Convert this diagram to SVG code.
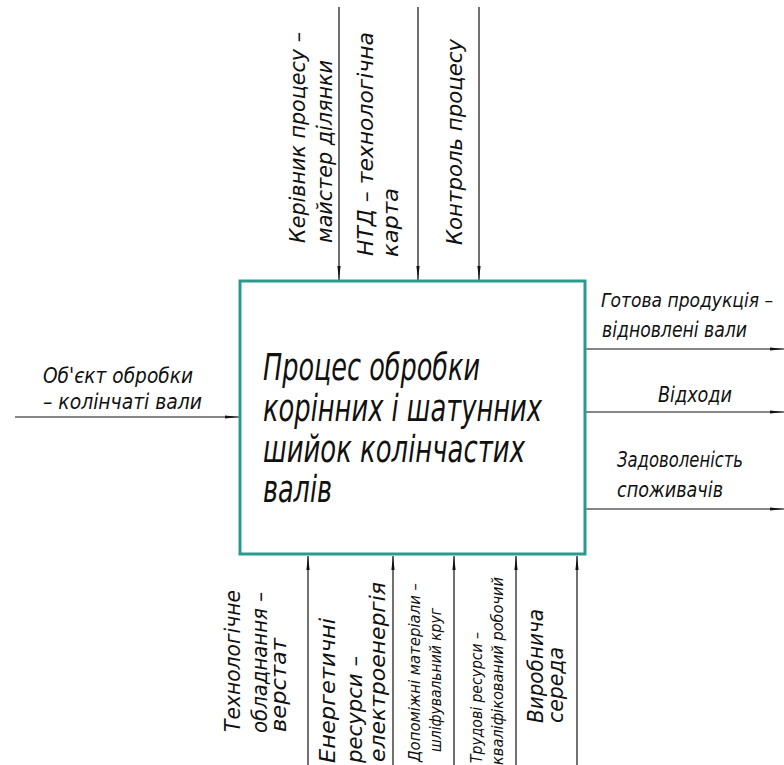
<svg xmlns="http://www.w3.org/2000/svg" width="784" height="765" viewBox="0 0 784 765">
<style>
text{font-family:"DejaVu Sans Condensed","DejaVu Sans",sans-serif;font-style:italic;fill:#111;}
.lbl{font-size:21px;}
.top{font-size:22px;}
.sm{font-size:15px;}
.main{font-size:37px;}
.ln{stroke:#111;stroke-width:1.2;fill:none;}
</style>
<defs>
<marker id="ah" viewBox="0 0 14 4" markerWidth="14" markerHeight="4" refX="14" refY="2" orient="auto" markerUnits="userSpaceOnUse">
<path d="M0,0.4 L14,2 L0,3.6 z" fill="#111"/>
</marker>
</defs>
<rect width="784" height="765" fill="#fff"/>
<g id="connectors">
<line class="ln" x1="339" y1="7" x2="339" y2="280" marker-end="url(#ah)"/>
<line class="ln" x1="418" y1="7" x2="418" y2="280" marker-end="url(#ah)"/>
<line class="ln" x1="479" y1="7" x2="479" y2="280" marker-end="url(#ah)"/>
<line class="ln" x1="15" y1="417" x2="239" y2="417" marker-end="url(#ah)"/>
<line class="ln" x1="586" y1="349" x2="784" y2="349" marker-end="url(#ah)"/>
<line class="ln" x1="586" y1="412" x2="784" y2="412" marker-end="url(#ah)"/>
<line class="ln" x1="586" y1="509" x2="784" y2="509" marker-end="url(#ah)"/>
<line class="ln" x1="308" y1="765" x2="308" y2="556" marker-end="url(#ah)"/>
<line class="ln" x1="393" y1="765" x2="393" y2="556" marker-end="url(#ah)"/>
<line class="ln" x1="454" y1="765" x2="454" y2="556" marker-end="url(#ah)"/>
<line class="ln" x1="516" y1="765" x2="516" y2="556" marker-end="url(#ah)"/>
<line class="ln" x1="577" y1="765" x2="577" y2="556" marker-end="url(#ah)"/>
</g>
<g id="process">
<rect x="240" y="281" width="345" height="273" fill="#fff" stroke="#2a9a8f" stroke-width="3"/>
<text class="main" x="263" y="380" textLength="217" lengthAdjust="spacingAndGlyphs">Процес обробки</text>
<text class="main" x="263" y="421" textLength="279" lengthAdjust="spacingAndGlyphs">корінних і шатунних</text>
<text class="main" x="263" y="462" textLength="262" lengthAdjust="spacingAndGlyphs">шийок колінчастих</text>
<text class="main" x="263" y="502" textLength="69" lengthAdjust="spacingAndGlyphs">валів</text>
</g>
<g id="control-labels">
<text class="top" transform="translate(305,243) rotate(-90)" textLength="211" lengthAdjust="spacingAndGlyphs">Керівник процесу –</text>
<text class="top" transform="translate(332,243) rotate(-90)" textLength="183" lengthAdjust="spacingAndGlyphs">майстер ділянки</text>
<text class="top" transform="translate(373,256) rotate(-90)" textLength="224" lengthAdjust="spacingAndGlyphs">НТД – технологічна</text>
<text class="top" transform="translate(398,257) rotate(-90)" textLength="69" lengthAdjust="spacingAndGlyphs">карта</text>
<text class="top" transform="translate(462,245) rotate(-90)" textLength="206" lengthAdjust="spacingAndGlyphs">Контроль процесу</text>
</g>
<g id="input-label">
<text class="lbl" x="43" y="383" textLength="150" lengthAdjust="spacingAndGlyphs">Об'єкт обробки</text>
<text class="lbl" x="43" y="409" textLength="159" lengthAdjust="spacingAndGlyphs">– колінчаті вали</text>
</g>
<g id="output-labels">
<text class="lbl" x="601" y="307" style="font-size:19px" textLength="172" lengthAdjust="spacingAndGlyphs">Готова продукція –</text>
<text class="lbl" x="602" y="337" textLength="145" lengthAdjust="spacingAndGlyphs">відновлені вали</text>
<text class="lbl" x="658" y="402" textLength="74" lengthAdjust="spacingAndGlyphs">Відходи</text>
<text class="lbl" x="617" y="467" textLength="126" lengthAdjust="spacingAndGlyphs">Задоволеність</text>
<text class="lbl" x="617" y="497" textLength="106" lengthAdjust="spacingAndGlyphs">споживачів</text>
</g>
<g id="mechanism-labels">
<text class="lbl" transform="translate(240,732) rotate(-90)" textLength="142" lengthAdjust="spacingAndGlyphs">Технологічне</text>
<text class="lbl" transform="translate(267,733) rotate(-90)" textLength="141" lengthAdjust="spacingAndGlyphs">обладнання –</text>
<text class="lbl" transform="translate(286,732) rotate(-90)" textLength="94" lengthAdjust="spacingAndGlyphs">верстат</text>
<text class="lbl" transform="translate(335,763) rotate(-90)" textLength="145" lengthAdjust="spacingAndGlyphs">Енергетичні</text>
<text class="lbl" transform="translate(362,763) rotate(-90)" textLength="107" lengthAdjust="spacingAndGlyphs">ресурси –</text>
<text class="lbl" transform="translate(385,762) rotate(-90)" textLength="180" lengthAdjust="spacingAndGlyphs">електроенергія</text>
<text class="sm" transform="translate(420,762) rotate(-90)" textLength="179" lengthAdjust="spacingAndGlyphs">Допоміжні матеріали –</text>
<text class="sm" transform="translate(441,752) rotate(-90)" textLength="144" lengthAdjust="spacingAndGlyphs">шліфувальний круг</text>
<text class="sm" transform="translate(482,763) rotate(-90)" textLength="131" lengthAdjust="spacingAndGlyphs">Трудові ресурси –</text>
<text class="sm" transform="translate(503,765) rotate(-90)" textLength="188" lengthAdjust="spacingAndGlyphs">кваліфікований робочий</text>
<text class="lbl" transform="translate(543,723) rotate(-90)" textLength="114" lengthAdjust="spacingAndGlyphs">Виробнича</text>
<text class="lbl" transform="translate(563,723) rotate(-90)" textLength="76" lengthAdjust="spacingAndGlyphs">середа</text>
</g>
</svg>
